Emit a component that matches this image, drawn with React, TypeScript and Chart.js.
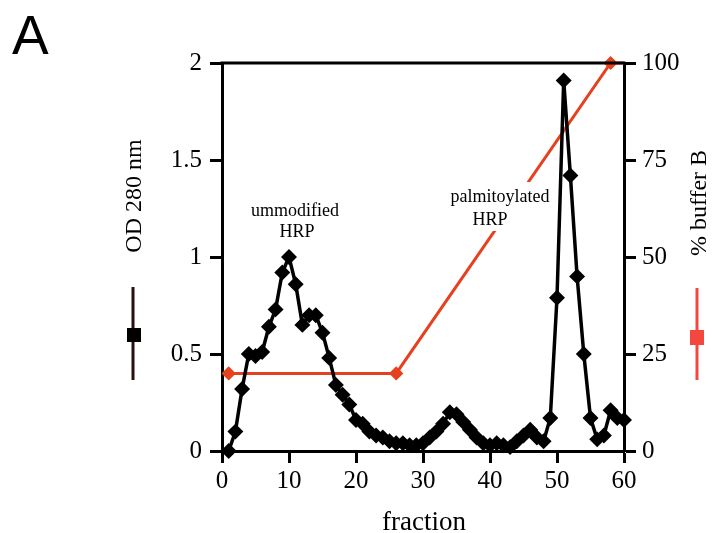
import React, { useEffect, useRef } from "react";
import { Chart, registerables } from "chart.js";

Chart.register(...registerables);

const fractions: number[] = [
  1, 2, 3, 4, 5, 6, 7, 8, 9, 10, 11, 12, 13, 14, 15, 16, 17, 18, 19, 20,
  21, 22, 23, 24, 25, 26, 27, 28, 29, 30, 31, 32, 33, 34, 35, 36, 37, 38, 39, 40,
  41, 42, 43, 44, 45, 46, 47, 48, 49, 50, 51, 52, 53, 54, 55, 56, 57, 58, 59, 60,
];
const od280: number[] = [
  0.0, 0.1, 0.32, 0.5, 0.49, 0.51, 0.64, 0.73, 0.92, 1.0,
  0.86, 0.65, 0.7, 0.7, 0.61, 0.48, 0.34, 0.29, 0.24, 0.16,
  0.14, 0.1, 0.08, 0.07, 0.05, 0.04, 0.04, 0.03, 0.03, 0.04,
  0.07, 0.1, 0.14, 0.2, 0.19, 0.15, 0.11, 0.07, 0.04, 0.03,
  0.04, 0.03, 0.02, 0.05, 0.08, 0.11, 0.07, 0.05, 0.17, 0.79,
  1.91, 1.42, 0.9, 0.5, 0.17, 0.06, 0.08, 0.21, 0.17, 0.16,
];
const bufferFractions: number[] = [1, 26, 58, 60];
const bufferB: number[] = [20, 20, 100, 100];
const bufferMarkerRadius: number[] = [5, 5, 5, 0];

const xTicks: number[] = [0, 10, 20, 30, 40, 50, 60];
const yLeftTicks: number[] = [0, 0.5, 1, 1.5, 2];
const yRightTicks: number[] = [0, 25, 50, 75, 100];

const SERIF = "'Liberation Serif', 'Times New Roman', serif";
const RED = "#e6411f";

export default function App() {
  const ref = useRef<HTMLCanvasElement | null>(null);

  useEffect(() => {
    if (!ref.current) return;
    Chart.defaults.color = "#000";

    const overlay = {
      id: "overlay",
      afterDraw(chart: any) {
        const ctx = chart.ctx;
        const a = chart.chartArea;
        ctx.save();
        // top border
        ctx.strokeStyle = "#000";
        ctx.lineWidth = 3;
        ctx.beginPath();
        ctx.moveTo(a.left - 1.5, a.top);
        ctx.lineTo(a.right + 1.5, a.top);
        ctx.stroke();

        // white box behind palmitoylated label
        ctx.fillStyle = "#fff";
        ctx.fillRect(446, 182, 108, 49);

        ctx.fillStyle = "#000";
        ctx.textAlign = "center";
        ctx.textBaseline = "alphabetic";
        ctx.font = `18px ${SERIF}`;
        ctx.fillText("ummodified", 295, 216);
        ctx.fillText("HRP", 297, 237);
        ctx.fillText("palmitoylated", 500, 202);
        ctx.fillText("HRP", 490, 225);

        // x title
        ctx.font = `27px ${SERIF}`;
        ctx.fillText("fraction", 424, 530);

        // left title
        ctx.save();
        ctx.translate(135, 196);
        ctx.rotate(-Math.PI / 2);
        ctx.textBaseline = "middle";
        ctx.font = `24px ${SERIF}`;
        ctx.fillText("OD 280 nm", 0, 0);
        ctx.restore();

        // right title
        ctx.save();
        ctx.translate(700, 203);
        ctx.rotate(-Math.PI / 2);
        ctx.textBaseline = "middle";
        ctx.font = `24px ${SERIF}`;
        ctx.fillText("% buffer B", 0, 0);
        ctx.restore();

        // left legend marker
        ctx.strokeStyle = "#2a0f0f";
        ctx.lineWidth = 3;
        ctx.beginPath();
        ctx.moveTo(133, 287);
        ctx.lineTo(133, 380);
        ctx.stroke();
        ctx.fillStyle = "#000";
        ctx.fillRect(127, 328, 14, 14);

        // right legend marker
        ctx.strokeStyle = "#f4483e";
        ctx.beginPath();
        ctx.moveTo(697, 288);
        ctx.lineTo(697, 380);
        ctx.stroke();
        ctx.fillStyle = "#f4483e";
        ctx.fillRect(690, 330, 14, 15);

        // panel letter
        ctx.fillStyle = "#000";
        ctx.textAlign = "left";
        ctx.font = `55px 'Liberation Sans', Arial, sans-serif`;
        ctx.fillText("A", 12, 54);
        ctx.restore();
      },
    };

    const tickFmt = (v: any) => String(Number(v));

    const chart = new Chart(ref.current, {
      type: "line",
      data: {
        datasets: [
          {
            label: "% buffer B",
            data: bufferFractions.map((f, i) => ({ x: f, y: bufferB[i] })),
            yAxisID: "y1",
            borderColor: RED,
            backgroundColor: RED,
            pointBorderColor: RED,
            pointStyle: "rectRot",
            pointRadius: bufferMarkerRadius,
            borderWidth: 3,
            tension: 0,
            clip: false,
            order: 2,
          } as any,
          {
            label: "OD 280 nm",
            data: fractions.map((f, i) => ({ x: f, y: od280[i] })),
            yAxisID: "y",
            borderColor: "#000",
            backgroundColor: "#000",
            pointBorderColor: "#000",
            pointStyle: "rectRot",
            pointRadius: 5.5,
            borderWidth: 3.5,
            tension: 0,
            clip: false,
            order: 1,
          } as any,
        ],
      },
      options: {
        responsive: false,
        animation: false,
        layout: { padding: { top: 63, left: 0, right: 0, bottom: 0 } },
        plugins: {
          legend: { display: false },
          tooltip: { enabled: false },
        },
        scales: {
          x: {
            type: "linear",
            min: 0,
            max: 60,
            afterFit: (s: any) => {
              s.height = 82;
            },
            afterBuildTicks: (s: any) => {
              s.ticks = xTicks.map((v) => ({ value: v }));
            },
            ticks: { font: { family: SERIF, size: 25 }, color: "#000", padding: 3, maxRotation: 0, callback: tickFmt },
            grid: { display: true, drawOnChartArea: false, drawTicks: true, tickLength: 12, tickWidth: 3, tickColor: "#000" },
            border: { display: true, width: 3, color: "#000" },
          },
          y: {
            type: "linear",
            position: "left",
            min: 0,
            max: 2,
            afterFit: (s: any) => {
              s.width = 222;
            },
            afterBuildTicks: (s: any) => {
              s.ticks = yLeftTicks.map((v) => ({ value: v }));
            },
            ticks: { font: { family: SERIF, size: 25 }, color: "#000", padding: 8, callback: tickFmt },
            grid: { display: true, drawOnChartArea: false, drawTicks: true, tickLength: 12, tickWidth: 3, tickColor: "#000" },
            border: { display: true, width: 3, color: "#000" },
          },
          y1: {
            type: "linear",
            position: "right",
            min: 0,
            max: 100,
            afterFit: (s: any) => {
              s.width = 88;
            },
            afterBuildTicks: (s: any) => {
              s.ticks = yRightTicks.map((v) => ({ value: v }));
            },
            ticks: { font: { family: SERIF, size: 25 }, color: "#000", padding: 6, callback: tickFmt },
            grid: { display: true, drawOnChartArea: false, drawTicks: true, tickLength: 12, tickWidth: 3, tickColor: "#000" },
            border: { display: true, width: 3, color: "#000" },
          },
        },
      } as any,
      plugins: [overlay],
    });
    return () => chart.destroy();
  }, []);

  return (
    <div style={{ position: "absolute", left: 0, top: 0, width: 712, height: 533 }}>
      <canvas ref={ref} width={712} height={533} style={{ display: "block" }} />
    </div>
  );
}
